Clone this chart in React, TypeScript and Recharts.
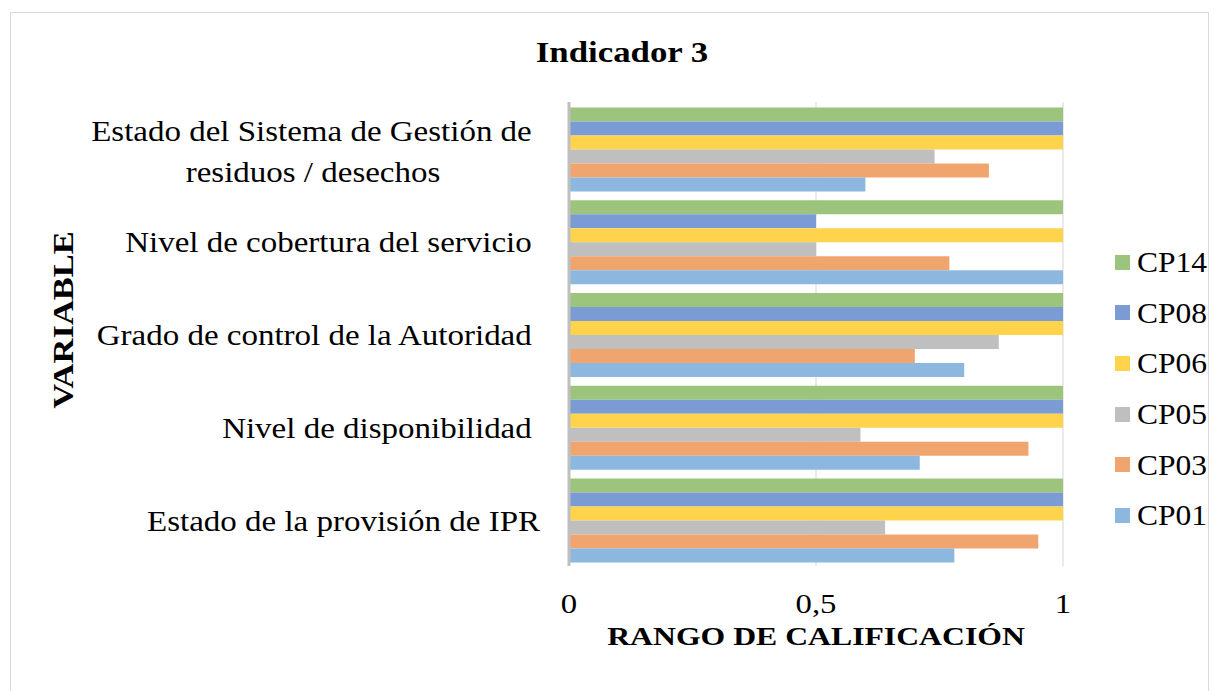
import React from "react";
import {
    BarChart,
    Bar,
    XAxis,
    YAxis,
    CartesianGrid,
    Legend,
    Label,
} from "recharts";

// categorias (el salto de linea parte la etiqueta en dos lineas)
const categories = [
    "Estado del Sistema de Gestión de \nresiduos / desechos",
    "Nivel de cobertura del servicio ",
    "Grado de control de la Autoridad ",
    "Nivel de disponibilidad ",
    "Estado de la provisión de IPR",
];

const seriesNames = ["CP14", "CP08", "CP06", "CP05", "CP03", "CP01"];

const cp14 = [1, 1, 1, 1, 1];
const cp08 = [1, 0.5, 1, 1, 1];
const cp06 = [1, 1, 1, 1, 1];
const cp05 = [0.74, 0.5, 0.87, 0.59, 0.64];
const cp03 = [0.85, 0.77, 0.7, 0.93, 0.95];
const cp01 = [0.6, 1, 0.8, 0.71, 0.78];

const xTicks = [0, 0.5, 1];

const COLORS = ["#9CC47C", "#7B9BD4", "#FFD34C", "#BFBFBF", "#F0A46E", "#8CB8E0"];

const seriesValues = [cp14, cp08, cp06, cp05, cp03, cp01];

const data = categories.map((name, i) => {
    const row: any = { name };
    seriesNames.forEach((s, j) => {
        row[s] = seriesValues[j][i];
    });
    return row;
});

const FONT = "'Liberation Serif', 'Times New Roman', serif";

// texto algo ensanchado, como en el original
const Stretched = ({ x, y, sx, anchor, size, bold, children }: any) => (
    <text
        transform={`translate(${x},${y}) scale(${sx},1)`}
        textAnchor={anchor}
        dominantBaseline="central"
        fontFamily={FONT}
        fontSize={size}
        fontWeight={bold ? "bold" : "normal"}
        fill="#000"
        style={{ whiteSpace: "pre" }}
    >
        {children}
    </text>
);

const renderYTick = ({ x, y, payload }: any) => {
    const lines = String(payload.value).split("\n");
    if (lines.length === 1) {
        return (
            <Stretched x={x} y={y + 1} sx={1.1} anchor="end" size={30}>
                {lines[0]}
            </Stretched>
        );
    }
    return (
        <g>
            <Stretched x={x} y={y - 17} sx={1.1} anchor="end" size={30}>
                {lines[0]}
            </Stretched>
            <Stretched x={x - 227} y={y + 24} sx={1.1} anchor="middle" size={30}>
                {lines[1]}
            </Stretched>
        </g>
    );
};

const renderXTick = ({ x, y, payload }: any) => (
    <Stretched x={x} y={y + 2} sx={1.17} anchor="middle" size={28}>
        {String(payload.value).replace(".", ",")}
    </Stretched>
);

const renderXLabel = ({ viewBox }: any) => {
    const { x, y, width, height } = viewBox;
    return (
        <text
            transform={`translate(${x + width / 2},${y + height - 15}) scale(1.22,1)`}
            textAnchor="middle"
            fontFamily={FONT}
            fontSize={26}
            fontWeight="bold"
            fill="#000"
        >
            RANGO DE CALIFICACIÓN
        </text>
    );
};

const renderLegend = (props: any) => {
    const items = [...props.payload].reverse();
    return (
        <div style={{ width: 120, fontFamily: FONT }}>
            {items.map((entry: any) => (
                <div
                    key={entry.value}
                    style={{
                        display: "flex",
                        alignItems: "center",
                        height: 50.6,
                        fontSize: 30,
                        color: "#000",
                        paddingLeft: 52,
                        whiteSpace: "nowrap",
                    }}
                >
                    <span
                        style={{
                            display: "inline-block",
                            width: 15,
                            height: 15,
                            background: entry.color,
                            marginRight: 7,
                            flex: "none",
                        }}
                    />
                    <span style={{ display: "inline-block", transform: "scaleX(1.05)", transformOrigin: "left center" }}>
                        {entry.value}
                    </span>
                </div>
            ))}
        </div>
    );
};

const App: React.FC = () => {
    return (
        <div
            style={{
                position: "absolute",
                left: 0,
                top: 0,
                width: 1220,
                height: 691,
                background: "#fff",
                overflow: "hidden",
            }}
        >
            {/* marco del grafico */}
            <div
                style={{
                    position: "absolute",
                    left: 10,
                    top: 12,
                    width: 1197,
                    height: 700,
                    border: "1px solid #D9D9D9",
                }}
            />
            <div
                style={{
                    position: "absolute",
                    left: 622,
                    top: 52,
                    transform: "translate(-50%, -50%) scaleX(1.2)",
                    fontFamily: FONT,
                    fontWeight: "bold",
                    fontSize: 29,
                    color: "#000",
                    whiteSpace: "nowrap",
                }}
            >
                Indicador 3
            </div>
            <div
                style={{
                    position: "absolute",
                    left: 63,
                    top: 320,
                    transform: "translate(-50%, -50%) rotate(-90deg) scaleX(1.19)",
                    fontFamily: FONT,
                    fontWeight: "bold",
                    fontSize: 29,
                    color: "#000",
                    whiteSpace: "nowrap",
                }}
            >
                VARIABLE
            </div>
            <div style={{ position: "absolute", left: 0, top: 0 }}>
                <BarChart
                    width={1220}
                    height={691}
                    data={data}
                    layout="vertical"
                    margin={{ top: 102, right: 37, bottom: 31, left: 0 }}
                    barCategoryGap="5.8%"
                    barGap={0}
                >
                    <CartesianGrid
                        horizontal={false}
                        vertical={true}
                        stroke="#E3E3E3"
                        strokeWidth={1.5}
                    />
                    <XAxis
                        type="number"
                        domain={[0, 1]}
                        ticks={xTicks}
                        axisLine={false}
                        tickLine={false}
                        tickMargin={30}
                        height={94}
                        tick={renderXTick}
                    >
                        <Label content={renderXLabel} />
                    </XAxis>
                    <YAxis
                        type="category"
                        dataKey="name"
                        width={569}
                        tickLine={false}
                        axisLine={{ stroke: "#BFBFBF", strokeWidth: 3 }}
                        tick={renderYTick}
                        tickMargin={23}
                        interval={0}
                    />
                    <Legend
                        layout="vertical"
                        align="right"
                        verticalAlign="middle"
                        content={renderLegend}
                        wrapperStyle={{ width: 120, top: 237 }}
                    />
                    {seriesNames.map((s, i) => (
                        <Bar
                            key={s}
                            dataKey={s}
                            fill={COLORS[i]}
                            isAnimationActive={false}
                        />
                    ))}
                </BarChart>
            </div>
        </div>
    );
};

export default App;
